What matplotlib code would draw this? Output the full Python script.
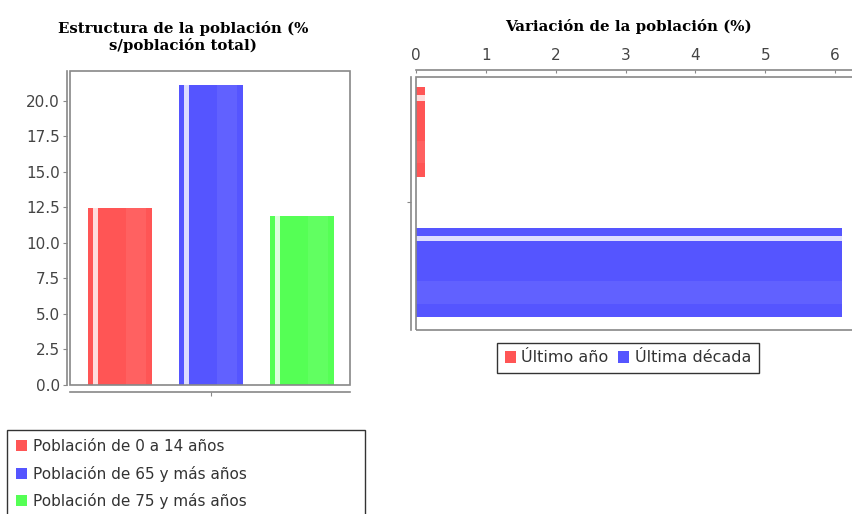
import matplotlib
matplotlib.use("Agg")
import matplotlib.pyplot as plt
from matplotlib.patches import Patch, Rectangle
import matplotlib.colors as mc

# ---- data ----
estructura_labels = ["Población de 0 a 14 años", "Población de 65 y más años", "Población de 75 y más años"]
estructura_values = [12.45, 21.13, 11.9]
estructura_colors = ["#FF5555", "#5555FF", "#55FF55"]
estructura_yticks = [0.0, 2.5, 5.0, 7.5, 10.0, 12.5, 15.0, 17.5, 20.0]

variacion_labels = ["Último año", "Última década"]
variacion_values = [0.13, 6.10]
variacion_colors = ["#FF5555", "#5555FF"]
variacion_xticks = [0, 1, 2, 3, 4, 5, 6]

W, H = 853, 514
fig = plt.figure(figsize=(W / 100, H / 100), dpi=100)
fig.patch.set_facecolor("white")

def fx(px):
    return px / W

def fy(py):
    return 1 - py / H

def pt(px):
    return px * 0.72

grey = "#888888"
tick_col = "#444444"

def lighten(c, f):
    r, g, b = mc.to_rgb(c)
    return (r + (1 - r) * f, g + (1 - g) * f, b + (1 - b) * f)

# ---------------- left chart ----------------
ax1 = fig.add_axes([fx(70), fy(385), fx(350) - fx(70), fy(71) - fy(385)])
xpos = list(range(len(estructura_values)))
bw = 0.71
ax1.bar(xpos, estructura_values, width=bw, color=estructura_colors, zorder=2)
# gradient-like highlights
ax1.bar([x - bw / 2 + bw * 0.08 for x in xpos], estructura_values, width=bw * 0.08,
        align="edge", color=[lighten(c, 0.8) for c in estructura_colors], zorder=3)
ax1.bar([x - bw / 2 + bw * 0.6 for x in xpos], estructura_values, width=bw * 0.3,
        align="edge", color=[lighten(c, 0.07) for c in estructura_colors], zorder=3)
ax1.set_xlim(-0.55, 2.53)
ax1.set_ylim(0, 22.1)
ax1.set_yticks(estructura_yticks)
ax1.set_yticklabels([f"{v:.1f}" for v in estructura_yticks])
ax1.set_xticks([1])
ax1.set_xticklabels([""])
for s in ["top", "right"]:
    ax1.spines[s].set_visible(False)
ax1.spines["left"].set_position(("outward", pt(3)))
ax1.spines["bottom"].set_position(("outward", pt(7)))
for s in ["left", "bottom"]:
    ax1.spines[s].set_color(grey)
    ax1.spines[s].set_linewidth(1.2)
ax1.add_patch(Rectangle((0, 0), 1, 1, transform=ax1.transAxes, fill=False,
                        ec=grey, lw=1.2, clip_on=False, zorder=5))
ax1.tick_params(axis="y", direction="out", length=3, color=grey, labelcolor=tick_col,
                labelsize=11, pad=2)
ax1.tick_params(axis="x", direction="out", length=3, color=grey)
fig.text(fx(183), fy(37), "Estructura de la población (%\ns/población total)",
         ha="center", va="center", family="DejaVu Serif", weight="bold",
         fontsize=10.8, linespacing=1.1)

handles1 = [Patch(facecolor=c, edgecolor="none") for c in estructura_colors]
leg1 = fig.legend(handles1, estructura_labels, loc="upper left",
                  bbox_to_anchor=(fx(7), fy(530), fx(365) - fx(7), fy(430) - fy(530)),
                  mode="expand", frameon=True, fancybox=False, borderpad=0.6,
                  handlelength=0.7, handleheight=0.7, handletextpad=0.4,
                  labelspacing=0.75, prop={"family": "DejaVu Sans", "size": 11},
                  borderaxespad=0)
leg1.get_frame().set_edgecolor("black")
leg1.get_frame().set_linewidth(1.0)
for t in leg1.get_texts():
    t.set_color("#333333")

# ---------------- right chart ----------------
ax2 = fig.add_axes([fx(416), fy(330), fx(856) - fx(416), fy(77) - fy(330)])
ypos = list(range(len(variacion_values)))
bh = 0.636
ax2.barh(ypos, variacion_values, height=bh, color=variacion_colors, zorder=2)
ax2.barh([y - bh / 2 + bh * 0.09 for y in ypos], variacion_values, height=bh * 0.06,
         align="edge", color=[lighten(c, 0.8) for c in variacion_colors], zorder=3)
ax2.barh([y - bh / 2 + bh * 0.6 for y in ypos], variacion_values, height=bh * 0.25,
         align="edge", color=[lighten(c, 0.07) for c in variacion_colors], zorder=3)
ax2.set_xlim(0, 6.3)
ax2.set_ylim(1.41, -0.39)
ax2.xaxis.tick_top()
ax2.set_xticks(variacion_xticks)
ax2.set_xticklabels([str(v) for v in variacion_xticks])
ax2.set_yticks([0.5])
ax2.set_yticklabels([""])
for s in ["bottom", "right"]:
    ax2.spines[s].set_visible(False)
ax2.spines["left"].set_position(("outward", pt(5)))
ax2.spines["top"].set_position(("outward", pt(7)))
for s in ["left", "top"]:
    ax2.spines[s].set_color(grey)
    ax2.spines[s].set_linewidth(1.2)
ax2.add_patch(Rectangle((0, 0), 1, 1, transform=ax2.transAxes, fill=False,
                        ec=grey, lw=1.2, clip_on=False, zorder=5))
ax2.tick_params(axis="x", direction="in", length=2, color=grey, labelcolor=tick_col,
                labelsize=11, pad=5)
ax2.tick_params(axis="y", direction="out", length=3, color=grey)
fig.text(fx(628), fy(26), "Variación de la población (%)", ha="center", va="center",
         family="DejaVu Serif", weight="bold", fontsize=10.8)

handles2 = [Patch(facecolor=c, edgecolor="none") for c in variacion_colors]
leg2 = fig.legend(handles2, variacion_labels, loc="center", ncol=2,
                  bbox_to_anchor=(fx(628), fy(358)),
                  frameon=True, fancybox=False, borderpad=0.45,
                  handlelength=0.7, handleheight=0.7, handletextpad=0.35,
                  columnspacing=0.6, prop={"family": "DejaVu Sans", "size": 11.5},
                  borderaxespad=0)
leg2.get_frame().set_edgecolor("black")
leg2.get_frame().set_linewidth(1.0)
for t in leg2.get_texts():
    t.set_color("#333333")

fig.savefig("out.png", dpi=100)
